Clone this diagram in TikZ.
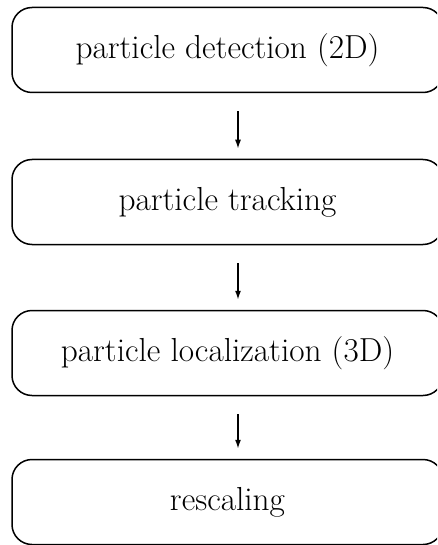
\documentclass[tikz,border=0pt]{standalone}
\usetikzlibrary{arrows.meta}
\begin{document}
\begin{tikzpicture}[x=1pt,y=1pt,
  stepbox/.style={draw, line width=1.5pt, rounded corners=20pt, minimum width=431pt, minimum height=85pt, inner sep=0pt, font=\fontsize{33.3}{40}\selectfont},
  flow/.style={-{Latex[length=9pt,width=6pt]}, line width=1.5pt}]
\clip (0,0) rectangle (437,-545);
\useasboundingbox (0,0) rectangle (437,-545);
\node[stepbox] (a) at (227.5,-50) {particle detection (2D)};
\node[stepbox] (b) at (227.5,-202) {particle tracking};
\node[stepbox] (c) at (227.5,-353) {particle localization (3D)};
\node[stepbox] (d) at (227.5,-502) {rescaling};
\draw[flow] ([xshift=10.5pt,yshift=-18pt]a.south) -- ([xshift=10.5pt,yshift=10pt]b.north);
\draw[flow] ([xshift=10.5pt,yshift=-18pt]b.south) -- ([xshift=10.5pt,yshift=10pt]c.north);
\draw[flow] ([xshift=10.5pt,yshift=-18pt]c.south) -- ([xshift=10.5pt,yshift=10pt]d.north);
\end{tikzpicture}
\end{document}
